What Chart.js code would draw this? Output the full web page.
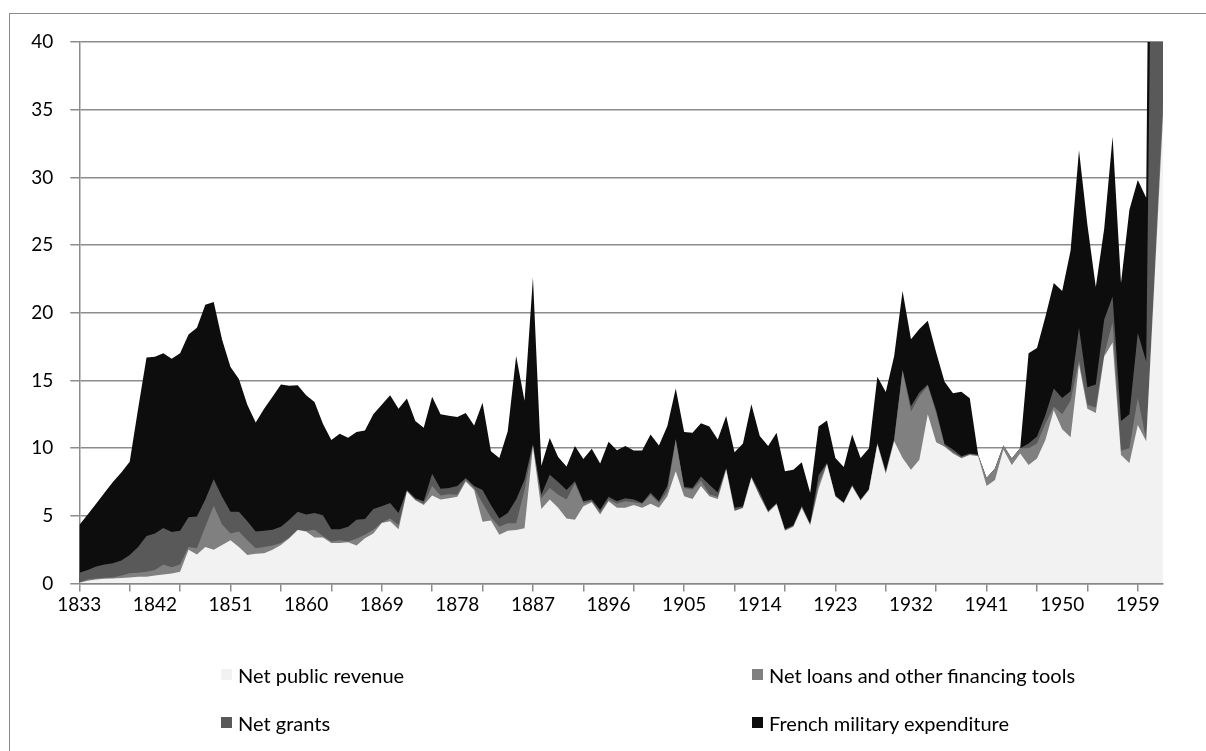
<!DOCTYPE html>
<html><head><meta charset="utf-8">
<script src="https://cdn.jsdelivr.net/npm/chart.js@4.4.0/dist/chart.umd.min.js"></script>
<style>
html,body{margin:0;padding:0;background:#fff;}
#wrap{position:relative;width:1206px;height:751px;overflow:hidden;font-family:Lato,'Open Sans',sans-serif;}
#frame{position:absolute;left:9px;top:13px;width:1300px;height:900px;border:1.5px solid #8c8c8c;box-sizing:border-box;}
canvas{position:absolute;left:0;top:0;}
.leg{position:absolute;font-size:20px;color:#000;white-space:nowrap;line-height:22px;}
.leg i{position:absolute;left:0;top:5px;width:11px;height:11px;}
.leg span{position:absolute;left:17px;top:0;}
</style></head>
<body><div id="wrap"><div id="frame"></div><canvas id="c" width="1206" height="751"></canvas><div id="legend"></div></div>
<script>
const years = [1833,1834,1835,1836,1837,1838,1839,1840,1841,1842,1843,1844,1845,1846,1847,1848,1849,1850,1851,1852,1853,1854,1855,1856,1857,1858,1859,1860,1861,1862,1863,1864,1865,1866,1867,1868,1869,1870,1871,1872,1873,1874,1875,1876,1877,1878,1879,1880,1881,1882,1883,1884,1885,1886,1887,1888,1889,1890,1891,1892,1893,1894,1895,1896,1897,1898,1899,1900,1901,1902,1903,1904,1905,1906,1907,1908,1909,1910,1911,1912,1913,1914,1915,1916,1917,1918,1919,1920,1921,1922,1923,1924,1925,1926,1927,1928,1929,1930,1931,1932,1933,1934,1935,1936,1937,1938,1939,1940,1941,1942,1943,1944,1945,1946,1947,1948,1949,1950,1951,1952,1953,1954,1955,1956,1957,1958,1959,1960,1961,1962];
const xTickLabels = ['1833','1842','1851','1860','1869','1878','1887','1896','1905','1914','1923','1932','1941','1950','1959'];
const tickMarkYears = [1833,1839,1845,1851,1857,1863,1869,1875,1881,1887,1893,1899,1905,1911,1917,1923,1929,1935,1941,1947,1953,1959];
const yTicks = [0,5,10,15,20,25,30,35,40];
const seriesNames = ['Net public revenue','Net loans and other financing tools','Net grants','French military expenditure'];

// cumulative (stacked) upper edge of each layer
const revenueTop = [0.05,0.2,0.3,0.35,0.37,0.4,0.45,0.5,0.5,0.6,0.67,0.74,0.87,2.5,2.15,2.7,2.5,2.85,3.2,2.7,2.1,2.2,2.24,2.5,2.85,3.35,3.95,3.85,3.4,3.4,3.0,3.0,3.05,2.8,3.35,3.7,4.46,4.6,4.0,6.8,6.15,5.8,6.5,6.2,6.3,6.4,7.54,6.9,4.57,4.65,3.6,3.9,3.95,4.08,10.1,5.5,6.2,5.6,4.8,4.7,5.7,6.0,5.1,6.07,5.6,5.6,5.8,5.6,5.9,5.6,6.44,8.3,6.44,6.24,7.2,6.44,6.24,8.4,5.35,5.57,7.8,6.44,5.25,5.85,3.9,4.2,5.57,4.3,7.0,8.8,6.43,5.93,7.17,6.13,6.9,10.26,8.1,10.5,9.27,8.4,9.15,12.5,10.43,10.1,9.6,9.25,9.5,9.4,7.2,7.64,9.9,8.75,9.6,8.75,9.24,10.6,12.8,11.4,10.8,16.2,12.9,12.6,16.76,17.8,9.5,8.9,11.7,10.5,22.5,34.5];
const loansTop = [0.1,0.3,0.37,0.42,0.45,0.6,0.75,0.8,0.87,1.0,1.4,1.2,1.4,2.7,2.6,4.2,5.75,4.35,3.7,3.85,3.2,2.6,2.7,2.8,3.0,3.4,3.97,3.87,3.97,3.5,3.1,3.2,3.1,3.3,3.6,3.97,4.5,4.8,4.3,6.85,6.2,5.9,7.2,6.5,6.6,6.55,7.66,7.05,5.93,4.9,4.2,4.45,4.45,6.9,10.2,6.3,7.05,6.55,6.2,7.4,5.95,6.07,5.25,6.2,5.9,6.07,6.0,5.9,6.56,5.95,6.8,10.6,7.06,6.93,7.6,6.6,6.4,8.45,5.4,5.6,7.85,6.5,5.3,5.9,3.95,4.25,5.65,4.35,7.4,8.85,6.45,5.95,7.2,6.15,6.95,10.35,8.2,10.6,15.7,12.7,13.84,14.6,12.6,10.2,9.7,9.3,9.55,9.5,7.8,8.5,10.2,9.24,10.0,10.0,10.35,11.8,13.06,12.5,13.5,16.5,13.2,13.0,16.9,19.3,9.8,10.0,13.7,10.6,23.0,35.5];
const grantsTop = [0.8,1.0,1.25,1.4,1.5,1.7,2.1,2.7,3.5,3.7,4.1,3.8,3.9,4.9,4.95,6.2,7.7,6.4,5.3,5.3,4.6,3.85,3.9,3.97,4.2,4.7,5.3,5.1,5.2,5.05,4.0,4.0,4.2,4.7,4.76,5.5,5.7,5.95,5.2,6.9,6.3,6.07,8.1,7.0,7.05,7.2,7.8,7.2,6.9,5.8,4.8,5.2,6.2,7.66,10.3,6.55,8.03,7.5,6.9,7.55,6.07,6.2,5.45,6.4,6.07,6.3,6.2,5.95,6.7,6.07,7.2,10.7,7.13,7.06,7.9,7.3,6.73,8.54,5.6,5.7,7.9,6.73,5.35,5.95,4.0,4.3,5.75,4.4,8.0,8.9,6.5,6.0,7.3,6.2,7.0,10.4,8.3,10.7,15.8,13.1,14.1,14.7,12.8,10.3,9.9,9.4,9.6,9.5,7.8,8.5,10.2,9.24,10.0,10.35,10.85,12.45,14.4,13.7,14.2,18.9,14.5,14.7,19.5,21.2,12.0,12.5,18.5,16.4,70,100];
const militaryTop = [4.33,5.1,5.9,6.7,7.5,8.2,9.0,12.9,16.7,16.75,17.0,16.6,17.0,18.4,18.9,20.6,20.8,18.0,16.0,15.1,13.2,11.9,12.9,13.8,14.7,14.6,14.65,13.9,13.4,11.8,10.6,11.06,10.77,11.2,11.3,12.5,13.2,13.9,12.9,13.66,12.0,11.5,13.8,12.5,12.4,12.3,12.6,11.67,13.35,9.77,9.27,11.25,16.8,13.5,22.6,8.7,10.75,9.35,8.65,10.15,9.2,9.95,8.86,10.47,9.85,10.15,9.83,9.83,11.0,10.2,11.63,14.4,11.2,11.14,11.83,11.6,10.64,12.37,9.7,10.35,13.24,10.9,10.15,11.14,8.3,8.4,8.96,6.7,11.6,12.04,9.27,8.6,11.0,9.27,10.0,15.28,14.14,16.8,21.6,18.05,18.8,19.4,17.06,14.9,14.05,14.17,13.68,9.5,7.8,8.5,10.2,9.24,10.0,17.0,17.4,19.7,22.2,21.6,24.6,32.0,26.5,21.9,26.2,33.0,22.2,27.6,29.8,28.5,100,130];

const colors = ['#f2f2f2','#808080','#595959','#0d0d0d'];
const axisGray = '#8c8c8c';
const FONT = 'Lato';

// legend (HTML, real text)
const legPos = [[221,664],[752,664],[221,712],[752,712]];
const legEl = document.getElementById('legend');
seriesNames.forEach((n,i)=>{
  const d=document.createElement('div'); d.className='leg';
  d.style.left=legPos[i][0]+'px'; d.style.top=legPos[i][1]+'px';
  d.innerHTML='<i style="background:'+colors[i]+'"></i><span>'+n+'</span>';
  legEl.appendChild(d);
});

const tops = [revenueTop, loansTop, grantsTop, militaryTop];
new Chart(document.getElementById('c'), {
  type:'line',
  data:{
    labels: years.map(String),
    datasets: seriesNames.map((n,i)=>({
      label:n, data:tops[i], backgroundColor:colors[i], borderColor:'rgba(0,0,0,0)', borderWidth:0,
      fill:'origin', pointRadius:0, pointHoverRadius:0, tension:0
    }))
  },
  options:{
    responsive:false, animation:false, devicePixelRatio:1,
    layout:{padding:{left:0,right:43,top:42,bottom:127.5}},
    plugins:{legend:{display:false},tooltip:{enabled:false}},
    scales:{
      x:{
        type:'category',
        afterFit:(s)=>{s.height=40;},
        grid:{display:true,drawOnChartArea:false,drawTicks:true,tickLength:8,lineWidth:1.5,
          tickColor:(ctx)=> tickMarkYears.includes(years[ctx.index]) ? axisGray : 'rgba(0,0,0,0)'},
        border:{display:true,color:axisGray,width:1.5},
        ticks:{autoSkip:false,maxRotation:0,minRotation:0,padding:2,color:'#000',font:{family:FONT,size:19},
          callback:(v,i)=> xTickLabels.includes(String(years[i])) ? String(years[i]) : ''}
      },
      y:{
        min:0,max:40,
        afterFit:(s)=>{s.width=79.3;},
        afterBuildTicks:(s)=>{s.ticks=yTicks.map(v=>({value:v}));},
        grid:{color:axisGray,lineWidth:1.5,drawTicks:true,tickLength:9,tickColor:axisGray},
        border:{display:true,color:axisGray,width:1.5},
        ticks:{padding:17,color:'#000',font:{family:FONT,size:19}}
      }
    }
  }
});
</script></body></html>
